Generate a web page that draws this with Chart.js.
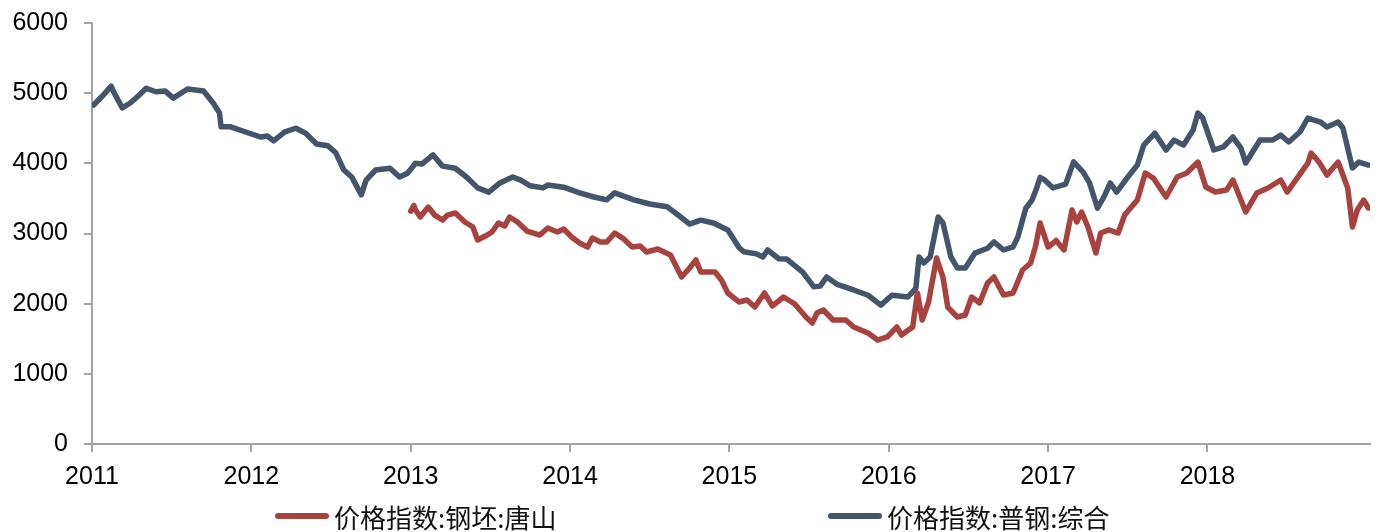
<!DOCTYPE html>
<html>
<head>
<meta charset="utf-8">
<script src="https://cdn.jsdelivr.net/npm/chart.js@4/dist/chart.umd.min.js"></script>
<style>
    html, body { margin: 0; padding: 0; background: #fff; }
    #wrap { position: relative; width: 1379px; height: 532px; }
    #legend { position: absolute; left: 0; top: 0; width: 100%; }
    .item { position: absolute; top: 501px; height: 30px; display: flex; align-items: center;
            font-family: "Noto Sans CJK SC", sans-serif; font-size: 26px; color: #111; white-space: nowrap; }
    .item span.swatch { display: inline-block; width: 54px; height: 6px; border-radius: 3px; margin-right: 5px; }
</style>
</head>
<body>
<div id="wrap">
    <canvas id="chart" width="1379" height="532"></canvas>
    <div id="legend"></div>
</div>
<script>
// x positions are decimal years
const yearTicks = [2011, 2012, 2013, 2014, 2015, 2016, 2017, 2018];

const seriesNames = ['价格指数:钢坯:唐山', '价格指数:普钢:综合'];

const billetDates = [
    2013.00, 2013.02, 2013.03, 2013.06, 2013.11, 2013.15, 2013.20, 2013.23, 2013.28, 2013.34,
    2013.39, 2013.42, 2013.48, 2013.51, 2013.55, 2013.59, 2013.62, 2013.67, 2013.73, 2013.81,
    2013.86, 2013.92, 2013.96, 2014.01, 2014.06, 2014.11, 2014.14, 2014.19, 2014.23, 2014.28,
    2014.33, 2014.39, 2014.44, 2014.48, 2014.55, 2014.63, 2014.70, 2014.75, 2014.79, 2014.82,
    2014.91, 2014.95, 2014.99, 2015.06, 2015.11, 2015.16, 2015.22, 2015.27, 2015.34, 2015.41,
    2015.48, 2015.52, 2015.55, 2015.59, 2015.65, 2015.73, 2015.78, 2015.87, 2015.93, 2015.99,
    2016.05, 2016.08, 2016.15, 2016.18, 2016.21, 2016.25, 2016.30, 2016.34, 2016.37, 2016.43,
    2016.48, 2016.52, 2016.57, 2016.62, 2016.66, 2016.72, 2016.78, 2016.84, 2016.89, 2016.92,
    2016.95, 2017.00, 2017.05, 2017.10, 2017.15, 2017.18, 2017.21, 2017.25, 2017.30, 2017.33,
    2017.38, 2017.44, 2017.48, 2017.56, 2017.61, 2017.66, 2017.74, 2017.81, 2017.87, 2017.94,
    2017.99, 2018.05, 2018.12, 2018.16, 2018.24, 2018.31, 2018.38, 2018.46, 2018.50, 2018.63,
    2018.65, 2018.70, 2018.75, 2018.82, 2018.88, 2018.91, 2018.94, 2018.98, 2019.01
];
const billetValues = [
    3320, 3400, 3335, 3235, 3377, 3263, 3192, 3263, 3292, 3164,
    3092, 2907, 2978, 3021, 3149, 3107, 3235, 3164, 3035, 2978,
    3078, 3021, 3064, 2950, 2864, 2807, 2935, 2879, 2879, 3007,
    2935, 2807, 2821, 2736, 2779, 2693, 2380, 2508, 2622, 2451,
    2451, 2337, 2152, 2024, 2052, 1952, 2152, 1967, 2095, 1995,
    1810, 1724, 1867, 1910, 1767, 1767, 1667, 1582, 1482, 1525,
    1667, 1553, 1667, 2152, 1767, 2024, 2650, 2380, 1952, 1810,
    1838, 2095, 2010, 2294, 2380, 2123, 2152, 2480, 2579, 2807,
    3149, 2807, 2900, 2765, 3335, 3164, 3306, 3092, 2722, 3007,
    3050, 3007, 3263, 3477, 3862, 3790, 3520, 3805, 3862, 4018,
    3662, 3591, 3620, 3762, 3306, 3577, 3648, 3762, 3591, 4004,
    4147, 4018, 3833, 4018, 3648, 3092, 3335, 3477, 3363
];

const steelDates = [
    2011.01, 2011.07, 2011.12, 2011.14, 2011.19, 2011.24, 2011.29, 2011.34, 2011.40, 2011.46,
    2011.51, 2011.60, 2011.70, 2011.76, 2011.80, 2011.81, 2011.87, 2011.96, 2012.06, 2012.10,
    2012.14, 2012.21, 2012.28, 2012.34, 2012.41, 2012.48, 2012.53, 2012.58, 2012.63, 2012.69,
    2012.72, 2012.78, 2012.87, 2012.93, 2012.98, 2013.03, 2013.07, 2013.14, 2013.20, 2013.28,
    2013.35, 2013.42, 2013.49, 2013.56, 2013.64, 2013.69, 2013.75, 2013.83, 2013.86, 2013.96,
    2014.06, 2014.15, 2014.23, 2014.28, 2014.40, 2014.50, 2014.61, 2014.68, 2014.75, 2014.82,
    2014.90, 2014.99, 2015.06, 2015.09, 2015.17, 2015.21, 2015.24, 2015.31, 2015.36, 2015.46,
    2015.53, 2015.57, 2015.61, 2015.68, 2015.78, 2015.87, 2015.95, 2016.02, 2016.12, 2016.17,
    2016.19, 2016.22, 2016.26, 2016.31, 2016.34, 2016.39, 2016.43, 2016.48, 2016.54, 2016.62,
    2016.66, 2016.72, 2016.78, 2016.81, 2016.86, 2016.90, 2016.93, 2016.95, 2016.98, 2017.03,
    2017.11, 2017.16, 2017.22, 2017.26, 2017.31, 2017.35, 2017.39, 2017.43, 2017.50, 2017.56,
    2017.60, 2017.67, 2017.74, 2017.79, 2017.85, 2017.91, 2017.94, 2017.97, 2018.04, 2018.10,
    2018.16, 2018.21, 2018.24, 2018.33, 2018.41, 2018.46, 2018.51, 2018.58, 2018.63, 2018.71,
    2018.75, 2018.82, 2018.85, 2018.91, 2018.95, 2019.01
];
const steelValues = [
    4830, 4970, 5100, 5000, 4790, 4860, 4960, 5070, 5020, 5030,
    4930, 5060, 5030, 4860, 4720, 4520, 4520, 4450, 4375, 4390,
    4320, 4450, 4500, 4430, 4275, 4250, 4150, 3905, 3805, 3550,
    3760, 3905, 3930, 3805, 3860, 4000, 3990, 4120, 3960, 3930,
    3805, 3650, 3590, 3720, 3805, 3760, 3680, 3650, 3690, 3660,
    3580, 3520, 3480, 3580, 3480, 3420, 3380, 3260, 3135, 3190,
    3150, 3050, 2800, 2740, 2710, 2665, 2765, 2640, 2636, 2450,
    2240, 2250, 2380, 2270, 2195, 2120, 1980, 2120, 2095, 2220,
    2665, 2580, 2665, 3235, 3150, 2665, 2510, 2510, 2720, 2790,
    2880, 2765, 2810, 2950, 3360, 3480, 3660, 3800, 3760, 3650,
    3705, 4020, 3876, 3720, 3360, 3520, 3720, 3590, 3805, 3976,
    4260, 4430, 4190, 4330, 4260, 4475, 4717, 4646, 4190, 4233,
    4375, 4218, 4004, 4332, 4332, 4403, 4304, 4446, 4646, 4589,
    4517, 4589, 4503, 3933, 4018, 3976
];

const colors = ['#A8423F', '#44546A'];

function toPoints(dates, values) {
    return dates.map((d, i) => ({ x: d, y: values[i] }));
}

const axisColor = '#a3a3a3';
const tickFont = { family: '"Liberation Sans", Arial, sans-serif', size: 25 };

const ctx = document.getElementById('chart').getContext('2d');
const chart = new Chart(ctx, {
    type: 'line',
    data: {
        datasets: [
            {
                label: seriesNames[0],
                data: toPoints(billetDates, billetValues),
                borderColor: colors[0],
                backgroundColor: colors[0],
                borderWidth: 5.5
            },
            {
                label: seriesNames[1],
                data: toPoints(steelDates, steelValues),
                borderColor: colors[1],
                backgroundColor: colors[1],
                borderWidth: 5.5
            }
        ]
    },
    options: {
        responsive: false,
        animation: false,
        elements: {
            point: { radius: 0 },
            line: { tension: 0, borderCapStyle: 'round', borderJoinStyle: 'round' }
        },
        layout: { padding: { top: 23, right: 9, left: 0, bottom: 0 } },
        plugins: {
            legend: { display: false },
            tooltip: { enabled: false }
        },
        scales: {
            x: {
                type: 'linear',
                min: 2011,
                max: 2019.02,
                afterBuildTicks: axis => { axis.ticks = yearTicks.map(v => ({ value: v })); },
                afterFit: axis => { axis.height = 88; },
                ticks: {
                    color: '#000',
                    font: tickFont,
                    padding: 10,
                    maxRotation: 0,
                    callback: v => String(v)
                },
                grid: { drawOnChartArea: false, drawTicks: true, tickLength: 8, color: axisColor, lineWidth: 2 },
                border: { color: axisColor, width: 2 }
            },
            y: {
                min: 0,
                max: 6000,
                afterFit: axis => {
                    axis.width = 92;
                    axis.paddingTop = 0;
                    axis.paddingBottom = 0;
                },
                ticks: {
                    stepSize: 1000,
                    color: '#000',
                    font: tickFont,
                    padding: 16,
                    callback: v => String(v)
                },
                grid: { drawOnChartArea: false, drawTicks: true, tickLength: 8, color: axisColor, lineWidth: 2 },
                border: { color: axisColor, width: 2 }
            }
        }
    }
});

// html legend, two items spread under the plot like the original
const legendLeft = [275, 828];
const legendDiv = document.getElementById('legend');
chart.data.datasets.forEach((ds, i) => {
    let item = document.createElement('div');
    item.className = 'item';
    item.style.left = legendLeft[i] + 'px';
    item.innerHTML = `<span class="swatch" style="background:${ds.borderColor}"></span>${ds.label}`;
    legendDiv.appendChild(item);
});
</script>
</body>
</html>
